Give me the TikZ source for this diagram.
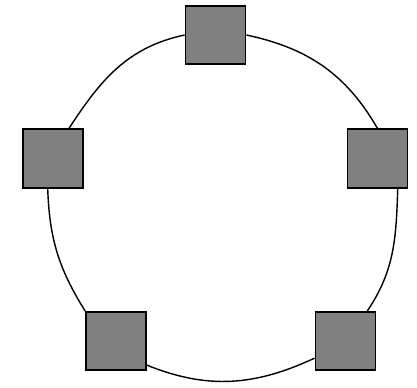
\documentclass[tikz,border=0pt]{standalone}
\usepackage{tikz}
\usetikzlibrary{positioning}
\definecolor{hostgray}{HTML}{808080}

\begin{document}
\begin{tikzpicture}[
  x=0.03cm, y=-0.03cm,
  host/.style={draw=black, fill=hostgray, line width=1.5pt,
               minimum width=1.8cm, minimum height=1.75cm, inner sep=0pt},
  ring/.style={draw=black, line width=1.2pt},
]
\useasboundingbox (0,0) rectangle (417,387);

\node[host] (top)   at (215.5,35)    {};
\node[host] (left)  at (53,158.5)    {};
\node[host] (right) at (377.5,158.5) {};
\node[host] (bl)    at (116,341)     {};
\node[host] (br)    at (345.5,341)   {};

\draw[ring] (top.west) to[out=192, in=57] (left.62);
\draw[ring] (left.260) to[out=272, in=122] (bl.north west);
\draw[ring] (bl.-38) to[out=-22, in=205] (br.209);
\draw[ring] (br.54) to[out=56, in=268] (right.304);
\draw[ring] (right.north) to[out=120, in=-12] (top.east);
\end{tikzpicture}
\end{document}
